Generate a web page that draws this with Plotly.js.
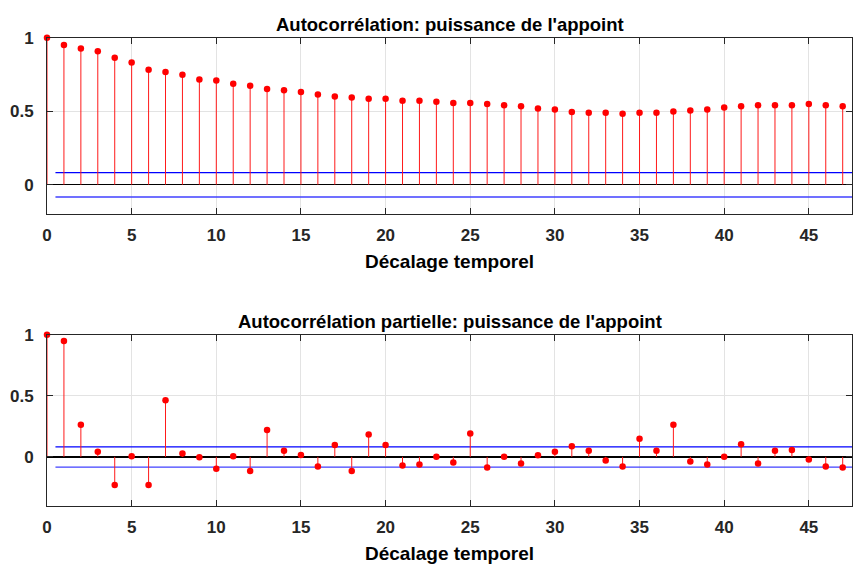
<!DOCTYPE html>
<html>
<head>
<meta charset="utf-8">
<script src="https://cdn.plot.ly/plotly-3.0.1.min.js"></script>
<style>html,body{margin:0;padding:0;background:#fff;}#chart{width:853px;height:566px;}</style>
</head>
<body>
<div id="chart"></div>
<script>
const lags = [0,1,2,3,4,5,6,7,8,9,10,11,12,13,14,15,16,17,18,19,20,21,22,23,24,25,26,27,28,29,30,31,32,33,34,35,36,37,38,39,40,41,42,43,44,45,46,47];
const acfValues = [1.000,0.950,0.927,0.907,0.864,0.832,0.782,0.766,0.748,0.716,
  0.709,0.686,0.673,0.650,0.643,0.630,0.614,0.600,0.593,0.584,
  0.584,0.570,0.570,0.564,0.555,0.555,0.548,0.541,0.534,0.518,
  0.511,0.495,0.489,0.489,0.482,0.489,0.489,0.498,0.505,0.511,
  0.525,0.534,0.541,0.541,0.541,0.548,0.541,0.534];
const pacfValues = [1.000,0.948,0.262,0.041,-0.230,0.005,-0.230,0.464,0.027,-0.003,
  -0.098,0.005,-0.115,0.219,0.049,0.016,-0.079,0.096,-0.115,0.183,
  0.096,-0.071,-0.063,0.000,-0.046,0.191,-0.087,0.000,-0.055,0.014,
  0.041,0.087,0.049,-0.030,-0.079,0.148,0.049,0.262,-0.038,-0.063,
  0.000,0.104,-0.055,0.049,0.057,-0.022,-0.079,-0.087];
const confUpper = 0.081;
const confLower = -0.084;
const boundStartLag = 0.5;
const xTickVals = [0,5,10,15,20,25,30,35,40,45];
const yTickVals = [0,0.5,1];
const yTickText = ['0','0.5','1'];
const titles = ["Autocorrélation: puissance de l'appoint", "Autocorrélation partielle: puissance de l'appoint"];
const xLabel = "Décalage temporel";

const FONT = "Liberation Sans, Arial, Helvetica, sans-serif";
const AX = '#262626';

function stemXY(xs, ys){
  const sx = [], sy = [];
  for (let i = 0; i < xs.length; i++){ sx.push(xs[i], xs[i], null); sy.push(0, ys[i], null); }
  return {sx, sy};
}

function traces(vals, xa, ya){
  const s = stemXY(lags, vals);
  const lastLag = lags[lags.length-1] + 1;
  return [
    {x:[boundStartLag, lastLag], y:[confUpper, confUpper], xaxis:xa, yaxis:ya, mode:'lines', line:{color:'#0000ff', width:1.2}, hoverinfo:'skip'},
    {x:[boundStartLag, lastLag], y:[confLower, confLower], xaxis:xa, yaxis:ya, mode:'lines', line:{color:'#4040ff', width:1.4}, hoverinfo:'skip'},
    {x:s.sx, y:s.sy, xaxis:xa, yaxis:ya, mode:'lines', line:{color:'#ff1a1a', width:1}, hoverinfo:'skip', connectgaps:false},
    {x:lags, y:vals, xaxis:xa, yaxis:ya, mode:'markers', marker:{color:'#ff0000', size:6.5}, cliponaxis:false}
  ];
}

const data = [].concat(traces(acfValues,'x','y'), traces(pacfValues,'x2','y2'));

function xaxis(anchor){
  return {anchor:anchor, range:[0,47.55], tickvals:xTickVals, ticks:'inside', ticklen:6, tickcolor:AX,
    showline:true, linecolor:AX, linewidth:1, mirror:'ticks', showgrid:true, gridcolor:'#e3e3e3', gridwidth:1,
    zeroline:false, tickfont:{family:FONT, size:17, color:AX, weight:'bold'}, ticklabelstandoff:6,
    title:{text:xLabel, font:{family:FONT, size:19, color:'#000', weight:'bold'}, standoff:10}};
}
function yaxis(anchor, domain, range){
  return {anchor:anchor, domain:domain, range:range, tickvals:yTickVals, ticktext:yTickText, ticks:'inside', ticklen:6, tickcolor:AX,
    showline:true, linecolor:AX, linewidth:1, mirror:'ticks', showgrid:true, gridcolor:'#e3e3e3', gridwidth:1,
    zeroline:true, zerolinecolor:'#000', zerolinewidth:1.6, tickfont:{family:FONT, size:17, color:AX, weight:'bold'}, ticklabelstandoff:9};
}

const topDom = [1-214/566, 1-37.7/566];
const botDom = [1-505.7/566, 1-334.7/566];

const layout = {
  width:853, height:566, margin:{l:47, r:1, t:0, b:0}, showlegend:false,
  paper_bgcolor:'#fff', plot_bgcolor:'#fff',
  xaxis: Object.assign(xaxis('y'), {domain:[0,1]}),
  yaxis: yaxis('x', topDom, [-0.2,1]),
  xaxis2: Object.assign(xaxis('y2'), {domain:[0,1]}),
  yaxis2: yaxis('x2', botDom, [-0.4,1]),
  annotations: [
    {text:titles[0], xref:'paper', yref:'paper', x:0.5, y:topDom[1], xanchor:'center', yanchor:'bottom', yshift:1, showarrow:false, font:{family:FONT, size:18.5, color:'#000', weight:'bold'}},
    {text:titles[1], xref:'paper', yref:'paper', x:0.5, y:botDom[1], xanchor:'center', yanchor:'bottom', yshift:1, showarrow:false, font:{family:FONT, size:18.5, color:'#000', weight:'bold'}}
  ]
};

Plotly.newPlot('chart', data, layout, {displayModeBar:false, staticPlot:true});
</script>
</body>
</html>
